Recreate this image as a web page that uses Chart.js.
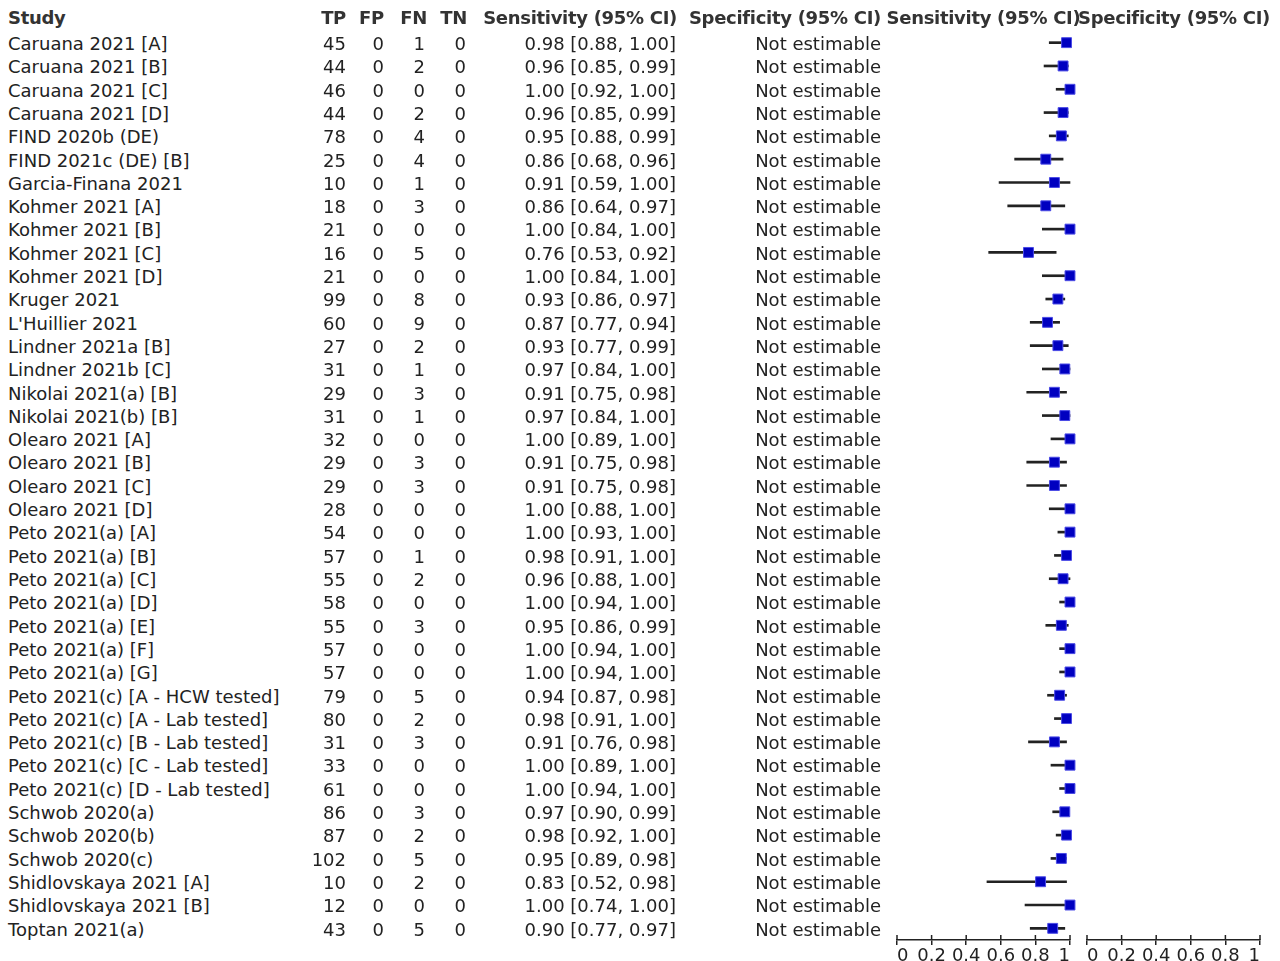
<!DOCTYPE html>
<html>
<head>
<meta charset="utf-8">
<script src="https://cdn.jsdelivr.net/npm/chart.js@4.4.0/dist/chart.umd.min.js"></script>
<style>
  html, body { margin: 0; padding: 0; background: #fff; }
  body { width: 1280px; height: 961px; position: relative; overflow: hidden; font-family: 'DejaVu Sans', sans-serif; font-size: 18px; color: #222; }
  .cell { position: absolute; white-space: nowrap; line-height: 23.305px; }
  .hd { font-weight: bold; color: #333; letter-spacing: -0.3px; }
  .r { text-align: right; width: 240px; }
  .c { text-align: center; width: 240px; }
  #sensWrap { position: absolute; left: 880px; top: 0; width: 200px; height: 961px; }
  #specWrap { position: absolute; left: 1080px; top: 0; width: 200px; height: 961px; }
</style>
</head>
<body>
<div id="sensWrap"><canvas id="sensChart"></canvas></div>
<div id="specWrap"><canvas id="specChart"></canvas></div>
<div id="table"></div>
<script>
var studies = [
  'Caruana 2021 [A]', 'Caruana 2021 [B]', 'Caruana 2021 [C]', 'Caruana 2021 [D]',
  'FIND 2020b (DE)', 'FIND 2021c (DE) [B]', 'Garcia-Finana 2021',
  'Kohmer 2021 [A]', 'Kohmer 2021 [B]', 'Kohmer 2021 [C]', 'Kohmer 2021 [D]',
  'Kruger 2021', "L'Huillier 2021", 'Lindner 2021a [B]', 'Lindner 2021b [C]',
  'Nikolai 2021(a) [B]', 'Nikolai 2021(b) [B]',
  'Olearo 2021 [A]', 'Olearo 2021 [B]', 'Olearo 2021 [C]', 'Olearo 2021 [D]',
  'Peto 2021(a) [A]', 'Peto 2021(a) [B]', 'Peto 2021(a) [C]', 'Peto 2021(a) [D]',
  'Peto 2021(a) [E]', 'Peto 2021(a) [F]', 'Peto 2021(a) [G]',
  'Peto 2021(c) [A - HCW tested]', 'Peto 2021(c) [A - Lab tested]', 'Peto 2021(c) [B - Lab tested]',
  'Peto 2021(c) [C - Lab tested]', 'Peto 2021(c) [D - Lab tested]',
  'Schwob 2020(a)', 'Schwob 2020(b)', 'Schwob 2020(c)',
  'Shidlovskaya 2021 [A]', 'Shidlovskaya 2021 [B]', 'Toptan 2021(a)'
];
var tp = [45, 44, 46, 44, 78, 25, 10, 18, 21, 16, 21, 99, 60, 27, 31, 29, 31, 32, 29, 29, 28, 54, 57, 55, 58, 55, 57, 57, 79, 80, 31, 33, 61, 86, 87, 102, 10, 12, 43];
var fp = [0, 0, 0, 0, 0, 0, 0, 0, 0, 0, 0, 0, 0, 0, 0, 0, 0, 0, 0, 0, 0, 0, 0, 0, 0, 0, 0, 0, 0, 0, 0, 0, 0, 0, 0, 0, 0, 0, 0];
var fn = [1, 2, 0, 2, 4, 4, 1, 3, 0, 5, 0, 8, 9, 2, 1, 3, 1, 0, 3, 3, 0, 0, 1, 2, 0, 3, 0, 0, 5, 2, 3, 0, 0, 3, 2, 5, 2, 0, 5];
var tn = [0, 0, 0, 0, 0, 0, 0, 0, 0, 0, 0, 0, 0, 0, 0, 0, 0, 0, 0, 0, 0, 0, 0, 0, 0, 0, 0, 0, 0, 0, 0, 0, 0, 0, 0, 0, 0, 0, 0];
var sens = [0.98, 0.96, 1.00, 0.96, 0.95, 0.86, 0.91, 0.86, 1.00, 0.76, 1.00, 0.93, 0.87, 0.93, 0.97, 0.91, 0.97, 1.00, 0.91, 0.91, 1.00, 1.00, 0.98, 0.96, 1.00, 0.95, 1.00, 1.00, 0.94, 0.98, 0.91, 1.00, 1.00, 0.97, 0.98, 0.95, 0.83, 1.00, 0.90];
var sensLo = [0.88, 0.85, 0.92, 0.85, 0.88, 0.68, 0.59, 0.64, 0.84, 0.53, 0.84, 0.86, 0.77, 0.77, 0.84, 0.75, 0.84, 0.89, 0.75, 0.75, 0.88, 0.93, 0.91, 0.88, 0.94, 0.86, 0.94, 0.94, 0.87, 0.91, 0.76, 0.89, 0.94, 0.90, 0.92, 0.89, 0.52, 0.74, 0.77];
var sensHi = [1.00, 0.99, 1.00, 0.99, 0.99, 0.96, 1.00, 0.97, 1.00, 0.92, 1.00, 0.97, 0.94, 0.99, 1.00, 0.98, 1.00, 1.00, 0.98, 0.98, 1.00, 1.00, 1.00, 1.00, 1.00, 0.99, 1.00, 1.00, 0.98, 1.00, 0.98, 1.00, 1.00, 0.99, 1.00, 0.98, 0.98, 1.00, 0.97];
var specText = 'Not estimable';
var axisTicks = [0, 0.2, 0.4, 0.6, 0.8, 1];

(function () {
  var ROW0 = 32, STEP = 23.305, HEAD = 6.3;
  var table = document.getElementById('table');

  function cell(text, x, y, cls) {
    var d = document.createElement('div');
    d.className = 'cell ' + (cls || '');
    d.textContent = text;
    if (cls && / r/.test(' ' + cls)) d.style.left = (x - 240) + 'px';
    else if (cls && / c/.test(' ' + cls)) d.style.left = (x - 120) + 'px';
    else d.style.left = x + 'px';
    d.style.top = y + 'px';
    table.appendChild(d);
  }

  // header row
  cell('Study', 8, HEAD, 'hd');
  cell('TP', 346, HEAD, 'hd r');
  cell('FP', 384, HEAD, 'hd r');
  cell('FN', 427, HEAD, 'hd r');
  cell('TN', 467, HEAD, 'hd r');
  cell('Sensitivity (95% CI)', 677, HEAD, 'hd r');
  cell('Specificity (95% CI)', 881, HEAD, 'hd r');
  cell('Sensitivity (95% CI)', 983.5, HEAD, 'hd c');
  cell('Specificity (95% CI)', 1174, HEAD, 'hd c');

  studies.forEach(function (s, i) {
    var y = ROW0 + i * STEP;
    cell(s, 8, y);
    cell(String(tp[i]), 346, y, 'r');
    cell(String(fp[i]), 384, y, 'r');
    cell(String(fn[i]), 425, y, 'r');
    cell(String(tn[i]), 466, y, 'r');
    cell(sens[i].toFixed(2) + ' [' + sensLo[i].toFixed(2) + ', ' + sensHi[i].toFixed(2) + ']', 676, y, 'r');
    cell(specText, 881, y, 'r');
  });

  Chart.defaults.font.family = "'DejaVu Sans', sans-serif";
  Chart.defaults.font.size = 18;
  Chart.defaults.color = '#222';

  // tick marks that cross the axis line
  var crossTicks = {
    id: 'crossTicks',
    afterDraw: function (chart) {
      var sc = chart.scales.x, ctx = chart.ctx;
      ctx.save();
      ctx.strokeStyle = '#222';
      ctx.lineWidth = 1.5;
      axisTicks.forEach(function (v) {
        var px = sc.getPixelForValue(v);
        ctx.beginPath();
        ctx.moveTo(px, sc.top - 5);
        ctx.lineTo(px, sc.top);
        ctx.stroke();
      });
      ctx.restore();
    }
  };

  function xAxis() {
    return {
      type: 'linear', min: 0, max: 1,
      afterBuildTicks: function (s) { s.ticks = axisTicks.map(function (v) { return { value: v }; }); },
      ticks: {
        align: 'inner', padding: 1, color: '#222', maxRotation: 0, autoSkip: false,
        callback: function (v) { return String(v); }
      },
      grid: { drawOnChartArea: false, tickLength: 5, color: '#222', lineWidth: 1.5 },
      border: { color: '#222', width: 1.5 },
      afterFit: function (s) { s.height = 21; }
    };
  }

  new Chart(document.getElementById('sensChart'), {
    type: 'bar',
    data: {
      labels: studies,
      datasets: [
        {
          type: 'line', indexAxis: 'y', data: sens, showLine: false,
          pointStyle: 'rect', pointRadius: 7, pointHoverRadius: 7, pointBorderWidth: 1,
          backgroundColor: '#0000c0', borderColor: '#4a4ae6', clip: false, order: 0
        },
        {
          data: sensLo.map(function (lo, i) { return [lo, sensHi[i]]; }),
          backgroundColor: '#222', barThickness: 2, clip: false, order: 1
        }
      ]
    },
    options: {
      indexAxis: 'y',
      responsive: true, maintainAspectRatio: false, animation: false,
      layout: { padding: { top: 31, left: 17, right: 10, bottom: 0 } },
      plugins: { legend: { display: false }, tooltip: { enabled: false } },
      scales: { y: { display: false, offset: true }, x: xAxis() }
    },
    plugins: [crossTicks]
  });

  new Chart(document.getElementById('specChart'), {
    type: 'scatter',
    data: { datasets: [{ data: [] }] },
    options: {
      responsive: true, maintainAspectRatio: false, animation: false,
      layout: { padding: { top: 31, left: 7, right: 20, bottom: 0 } },
      plugins: { legend: { display: false }, tooltip: { enabled: false } },
      scales: { y: { display: false }, x: xAxis() }
    },
    plugins: [crossTicks]
  });
})();
</script>
</body>
</html>
